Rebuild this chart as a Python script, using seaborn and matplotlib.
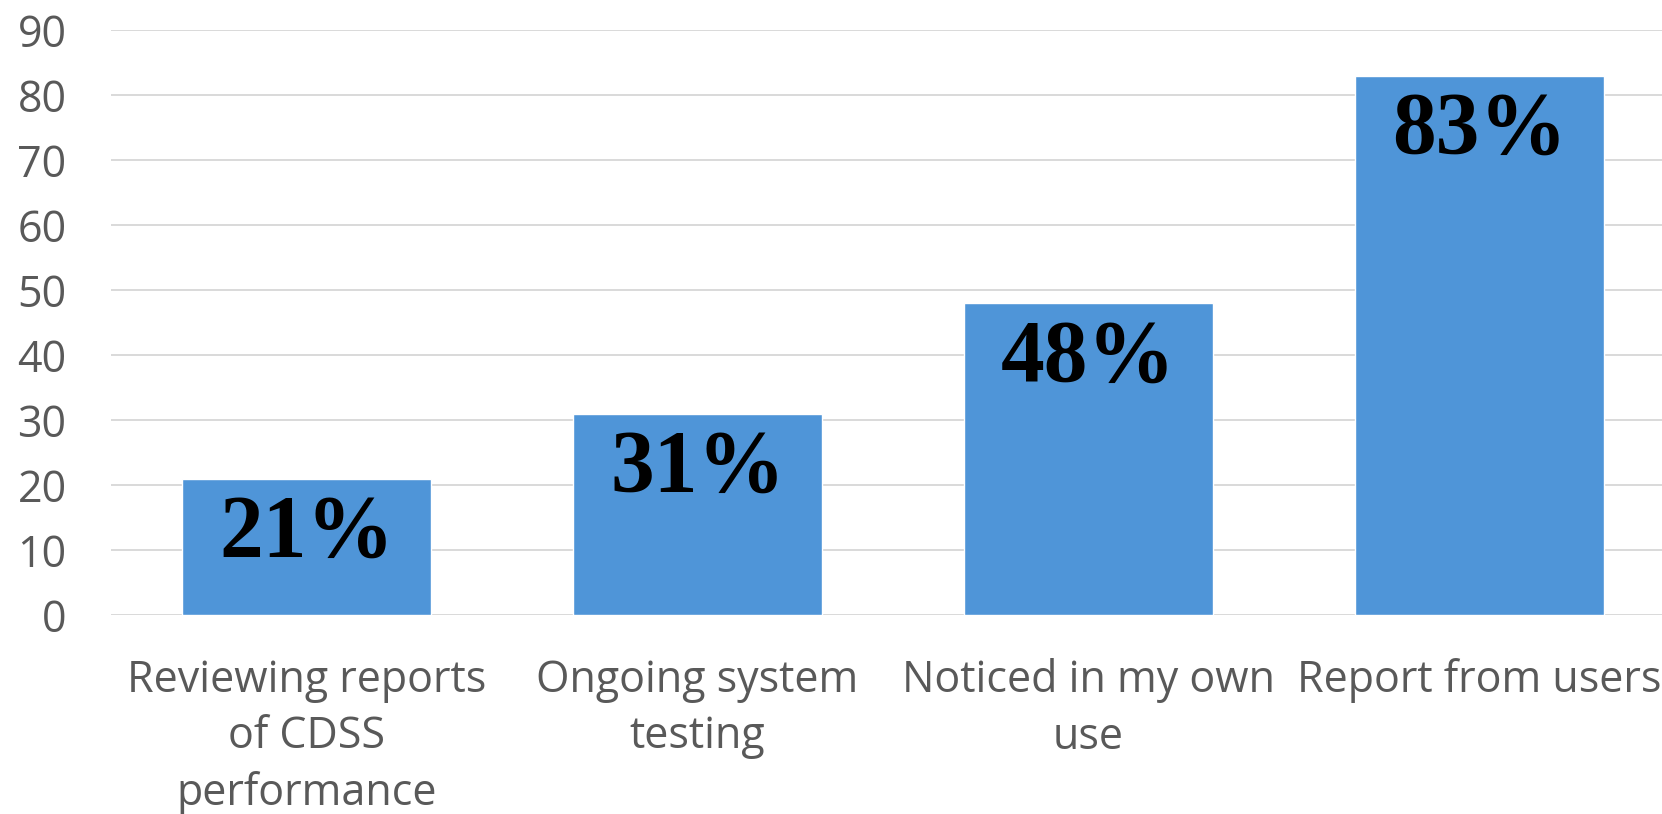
import matplotlib
matplotlib.use("Agg")
import matplotlib.pyplot as plt
import seaborn as sns
import pandas as pd

categories = ["Reviewing reports\nof CDSS\nperformance", "Ongoing system\ntesting",
              "Noticed in my own\nuse", "Report from users"]
values = [21, 31, 48, 83]
labels = ["21%", "31%", "48%", "83%"]
yticks = [0, 10, 20, 30, 40, 50, 60, 70, 80, 90]

sns.set_theme(style="white")
plt.rcParams['font.family'] = ['Open Sans', 'DejaVu Sans']

df = pd.DataFrame({"cat": categories, "val": values})

fig = plt.figure(figsize=(16.62, 8.14), dpi=100)
ax = fig.add_axes([111/1662, (814-615)/814, (1675-111)/1662, (615-30)/814])
sns.barplot(data=df, x="cat", y="val", color="#4F95D8", width=0.637, saturation=1, ax=ax)

ax.set_ylim(0, 90)
ax.set_yticks(yticks)
ax.set_xlim(-0.5, 3.5)
ax.grid(axis="y", color="#D9D9D9", linewidth=1.4)
ax.set_axisbelow(True)
for s in ax.spines.values():
    s.set_visible(False)
ax.set_xlabel("")
ax.set_ylabel("")
ax.tick_params(axis="y", labelsize=31, colors="#595959", pad=32, length=0)
ax.tick_params(axis="x", labelsize=31, colors="#595959", pad=31, length=0)
for t in ax.get_xticklabels():
    t.set_linespacing(1.36)

for p, lab in zip(ax.containers[0], labels):
    ax.annotate(lab, (p.get_x() + p.get_width() / 2, p.get_height()),
                xytext=(0, -11), textcoords="offset points", ha="center", va="top",
                fontsize=63, fontweight="bold", family="Liberation Serif", color="black")

fig.savefig("out.png", dpi=100)
